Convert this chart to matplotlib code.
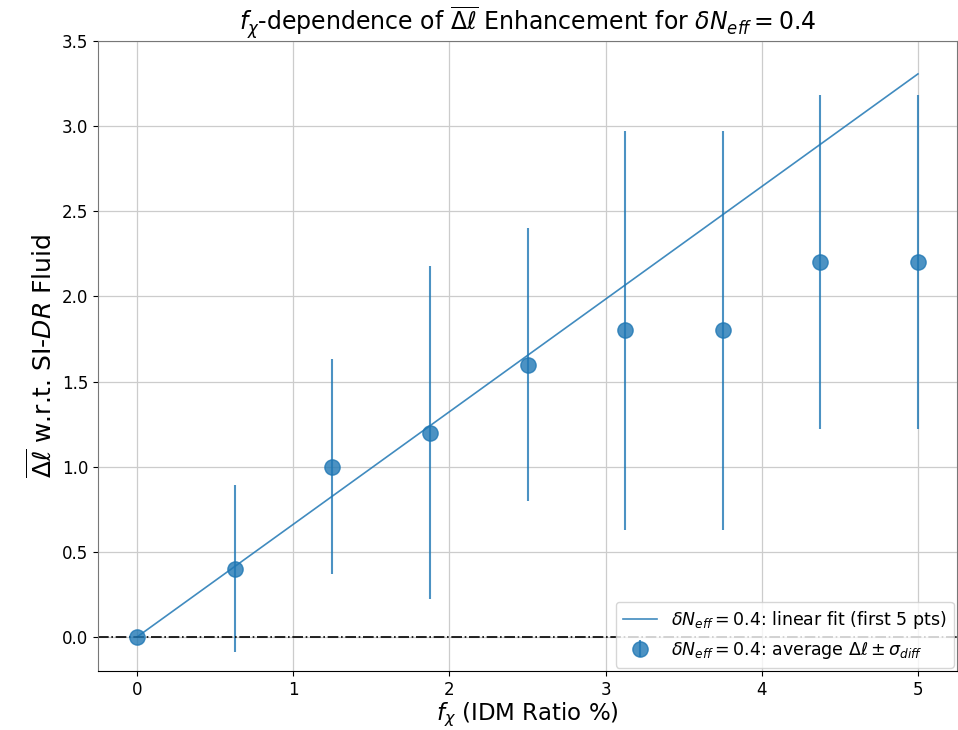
import numpy as np
import matplotlib
matplotlib.use("Agg")
import matplotlib.pyplot as plt

f_chi = [0.0, 0.625, 1.25, 1.875, 2.5, 3.125, 3.75, 4.375, 5.0]
delta_ell = [0.0, 0.4, 1.0, 1.2, 1.6, 1.8, 1.8, 2.2, 2.2]
sigma = [0.0, 0.49, 0.63, 0.98, 0.80, 1.17, 1.17, 0.98, 0.98]

x = np.array(f_chi)
y = np.array(delta_ell)
# linear fit through origin on first 5 points
slope = np.sum(x[:5] * y[:5]) / np.sum(x[:5] ** 2)
xf = np.array([0.0, 5.0])

fig = plt.figure(figsize=(9.58, 7.30), dpi=100)
ax = fig.add_axes([98/958, 59/730, 859/958, 630/730])

ax.plot(xf, slope * xf, color='C0', lw=1.2, alpha=0.85,
        label=r'$\delta N_{eff} = 0.4$: linear fit (first 5 pts)')
ax.errorbar(x, y, yerr=sigma, fmt='o', color='C0', ms=11, alpha=0.8,
            elinewidth=1.5, label=r'$\delta N_{eff} = 0.4$: average $\Delta\ell \pm \sigma_{diff}$')
ax.axhline(0, color='black', ls='-.', lw=1.2)

ax.set_xlim(-0.25, 5.25)
ax.set_ylim(-0.2, 3.5)
ax.set_yticks(np.arange(0, 3.51, 0.5))
ax.set_xticks([0, 1, 2, 3, 4, 5])
ax.grid(True, color='#cccccc', lw=0.9)
ax.tick_params(labelsize=12)
for s in ['left', 'top', 'right']:
    ax.spines[s].set_color('#777777')

ax.set_xlabel(r'$f_\chi$ (IDM Ratio %)', fontsize=16.5, labelpad=1)
ax.set_ylabel(r'$\overline{\Delta\ell}$ w.r.t. SI-$DR$ Fluid', fontsize=18)
ax.set_title(r'$f_\chi$-dependence of $\overline{\Delta\ell}$ Enhancement for $\delta N_{eff} = 0.4$', fontsize=17)
ax.legend(loc='lower right', fontsize=12.5, borderaxespad=0.2)

fig.savefig('out.png', dpi=100)
